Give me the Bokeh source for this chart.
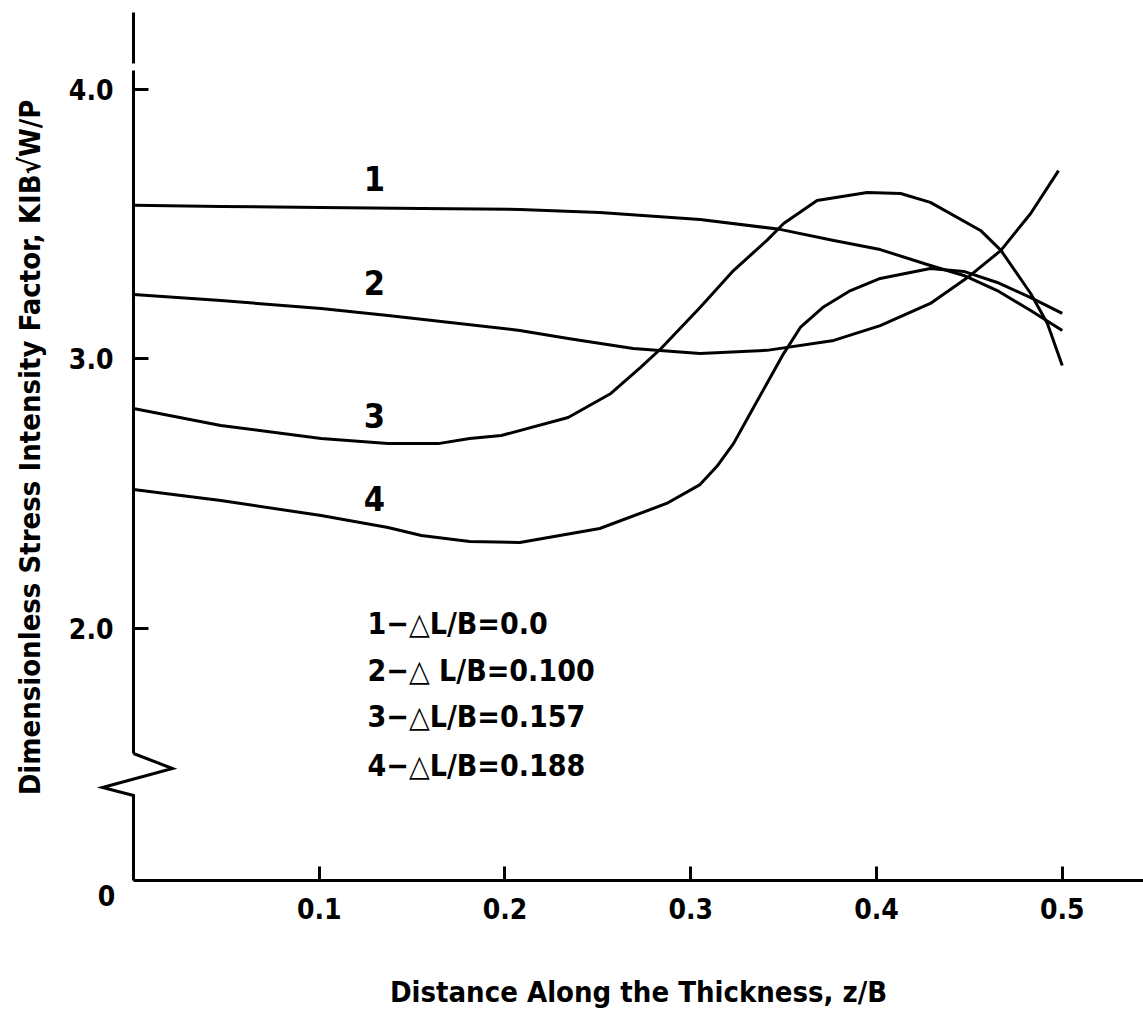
import math
from bokeh.plotting import figure
from bokeh.models import Range1d, FixedTicker, Label
from bokeh.core.properties import value
from bokeh.embed import file_html
from bokeh.resources import INLINE

FONT = "DejaVu Sans Condensed"

# ---- data ----
z1 = [0.0, 0.047, 0.101, 0.155, 0.208, 0.251, 0.305, 0.348, 0.377, 0.402, 0.429, 0.447, 0.465, 0.483, 0.500]
k1 = [3.570, 3.566, 3.562, 3.558, 3.555, 3.544, 3.518, 3.481, 3.440, 3.406, 3.347, 3.310, 3.254, 3.180, 3.106]

z2 = [0.0, 0.047, 0.101, 0.137, 0.208, 0.234, 0.269, 0.305, 0.341, 0.377, 0.402, 0.429, 0.449, 0.467, 0.483, 0.498]
k2 = [3.239, 3.217, 3.187, 3.161, 3.106, 3.076, 3.039, 3.020, 3.032, 3.069, 3.124, 3.206, 3.302, 3.403, 3.540, 3.699]

z3 = [0.0, 0.047, 0.101, 0.137, 0.164, 0.181, 0.198, 0.234, 0.257, 0.273, 0.284, 0.305, 0.323, 0.341,
      0.350, 0.368, 0.395, 0.413, 0.429, 0.456, 0.467, 0.483, 0.492, 0.500]
k3 = [2.816, 2.753, 2.705, 2.686, 2.686, 2.705, 2.716, 2.783, 2.872, 2.969, 3.039, 3.191, 3.328, 3.440,
      3.503, 3.588, 3.618, 3.614, 3.581, 3.477, 3.403, 3.243, 3.132, 2.976]

z4 = [0.0, 0.047, 0.101, 0.137, 0.155, 0.181, 0.208, 0.251, 0.287, 0.305, 0.314, 0.323, 0.332, 0.341,
      0.350, 0.359, 0.371, 0.386, 0.402, 0.429, 0.447, 0.465, 0.483, 0.500]
k4 = [2.516, 2.475, 2.419, 2.375, 2.345, 2.323, 2.319, 2.371, 2.464, 2.534, 2.601, 2.686, 2.798, 2.909,
      3.020, 3.117, 3.191, 3.254, 3.299, 3.336, 3.325, 3.284, 3.228, 3.169]

curve_ids = ["1", "2", "3", "4"]
legend_labels = ["1\u2212\u25b3L/B=0.0", "2\u2212\u25b3 L/B=0.100", "3\u2212\u25b3L/B=0.157", "4\u2212\u25b3L/B=0.188"]
x_ticks = [0.1, 0.2, 0.3, 0.4, 0.5]
x_tick_labels = ["0.1", "0.2", "0.3", "0.4", "0.5"]
y_ticks = [2.0, 3.0, 4.0]
y_tick_labels = ["2.0", "3.0", "4.0"]
x_title = "Distance Along the Thickness, z/B"
y_title = "Dimensionless Stress Intensity Factor, KIB\u221aW/P"

# ---- layout: the frame fills the canvas, axes are pinned at z/B = 0 and at the broken-axis origin ----
X0, X1 = -0.07160, 0.54374
YB, YT = 0.5714, 4.3302      # canvas bottom / top in axis units
Y0 = 1.065                   # where the x axis (the "0" of the broken scale) sits
YTOP = 4.2857                # top end of the drawn y axis line

p = figure(width=1143, height=1013, x_range=Range1d(X0, X1), y_range=Range1d(YB, YT),
           output_backend="svg", toolbar_location=None, min_border=0,
           min_border_left=0, min_border_right=0, min_border_top=0, min_border_bottom=0)
p.outline_line_color = None
p.xgrid.visible = False
p.ygrid.visible = False
p.background_fill_color = "white"
p.border_fill_color = "white"

# x axis
xa = p.xaxis[0]
xa.fixed_location = Y0
xa.ticker = FixedTicker(ticks=x_ticks)
xa.major_label_overrides = {t: l for t, l in zip(x_ticks, x_tick_labels)}
xa.bounds = (0, X1)
xa.axis_line_width = 3
xa.axis_line_color = "black"
xa.major_tick_in = 14
xa.major_tick_out = 0
xa.major_tick_line_width = 3
xa.minor_tick_line_color = None
xa.major_label_standoff = 18
xa.major_label_text_font = FONT
xa.major_label_text_font_size = "28px"
xa.major_label_text_font_style = "bold"
xa.major_label_text_color = "black"

# axis titles
p.add_layout(Label(x=0.2719, y=0.6494, text=x_title, text_align="center", text_baseline="middle",
                   text_font=FONT, text_font_size="29px", text_font_style="bold", text_color="black"))
p.add_layout(Label(x=-0.05545, y=2.6716, text=y_title, angle=math.pi / 2,
                   text_align="center", text_baseline="middle",
                   text_font=FONT, text_font_size="29px", text_font_style="bold", text_color="black"))

# y axis (drawn at z/B = 0)
ya = p.yaxis[0]
ya.fixed_location = 0
ya.ticker = FixedTicker(ticks=y_ticks)
ya.major_label_overrides = {t: l for t, l in zip(y_ticks, y_tick_labels)}
ya.axis_line_color = None
ya.major_tick_in = 15
ya.major_tick_out = 0
ya.major_tick_line_width = 3
ya.minor_tick_line_color = None
ya.major_label_standoff = 20
ya.major_label_text_font = FONT
ya.major_label_text_font_size = "28px"
ya.major_label_text_font_style = "bold"
ya.major_label_text_color = "black"

# broken y axis line
p.line(x=[0, 0], y=[YTOP, 4.0965], line_color="black", line_width=3)
p.line(x=[0, 0], y=[4.0705, 1.5362], line_color="black", line_width=3)
p.line(x=[0, 0.0210, -0.01669, 0, 0], y=[1.5362, 1.4805, 1.4100, 1.3803, Y0],
       line_color="black", line_width=3, line_join="miter")

p.add_layout(Label(x=-0.0145, y=1.0092, text="0", text_align="center", text_baseline="middle",
                   text_font=FONT, text_font_size="28px", text_font_style="bold", text_color="black"))

# curves
for zs, ks in [(z1, k1), (z2, k2), (z3, k3), (z4, k4)]:
    p.line(zs, ks, line_color="black", line_width=3, line_join="round")

# curve numbers
p.text(x=[0.1297] * 4, y=[3.670, 3.284, 2.790, 2.482], text=curve_ids,
       text_align="center", text_baseline="middle", text_font=value(FONT),
       text_font_size="34px", text_font_style="bold", text_color="black")

# legend text
p.text(x=[0.126] * 4, y=[2.0186, 1.8442, 1.6735, 1.4917], text=legend_labels,
       text_align="left", text_baseline="middle", text_font=value(FONT),
       text_font_size="30px", text_font_style="bold", text_color="black")

open("out.html", "w").write(file_html(p, INLINE))
